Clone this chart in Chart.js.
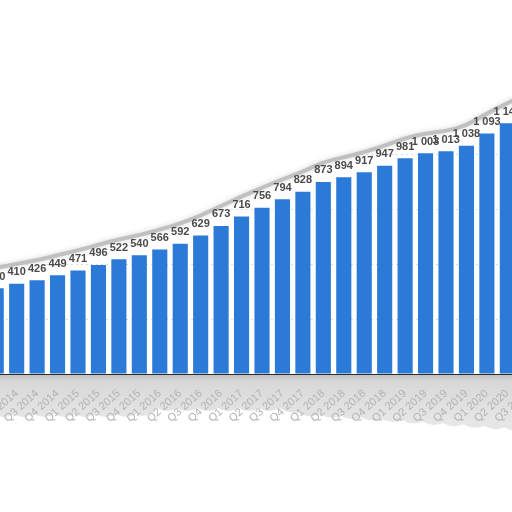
<!DOCTYPE html>
<html>
<head>
<meta charset="utf-8">
<script src="https://cdn.jsdelivr.net/npm/chart.js@4"></script>
<style>
  html, body { margin: 0; padding: 0; background: #fff; overflow: hidden; }
  #wrap { position: absolute; left: -14px; top: 0; width: 552px; height: 512px; }
</style>
</head>
<body>
<div id="wrap"><canvas id="quarterChart"></canvas></div>
<script>
// quarters shown (first and last ones are cut by the page edge)
const quarters = [
  'Q1 2014', 'Q2 2014', 'Q3 2014', 'Q4 2014',
  'Q1 2015', 'Q2 2015', 'Q3 2015', 'Q4 2015',
  'Q1 2016', 'Q2 2016', 'Q3 2016', 'Q4 2016',
  'Q1 2017', 'Q2 2017', 'Q3 2017', 'Q4 2017',
  'Q1 2018', 'Q2 2018', 'Q3 2018', 'Q4 2018',
  'Q1 2019', 'Q2 2019', 'Q3 2019', 'Q4 2019',
  'Q1 2020', 'Q2 2020', 'Q3 2020'
];
const values = [
  390, 410, 426, 449, 471, 496, 522, 540, 566, 592, 629, 673, 716, 756,
  794, 828, 873, 894, 917, 947, 981, 1003, 1013, 1038, 1093, 1140, 1185
];
const yTicks = [0, 250, 500, 750, 1000, 1250, 1500];

const barBlue = '#2c7ad8';

// 1093 -> "1 093"
function fmt(n) {
  if (n < 1000) return String(n);
  const rest = String(n % 1000).padStart(3, '0');
  return Math.floor(n / 1000) + ' ' + rest;
}

// grey torn strip under the x axis
const stripPlugin = {
  id: 'strip',
  beforeDraw(chart) {
    const ctx = chart.ctx;
    const top = chart.scales.x.top + 1;
    const bars = chart.getDatasetMeta(0).data;
    const baseY = x => {
      const px = x - 14;
      if (px < 140) return 412;
      if (px < 290) return 406;
      return 410 + (px - 290) * 0.07;
    };
    ctx.save();
    ctx.beginPath();
    ctx.moveTo(0, top);
    ctx.lineTo(chart.width, top);
    ctx.lineTo(chart.width, baseY(chart.width));
    for (let i = bars.length - 1; i >= 0; i--) {
      const x = bars[i].x;
      const y = baseY(x);
      ctx.quadraticCurveTo(x + 7, y + 8, x - 3, y + 2);
    }
    ctx.lineTo(0, baseY(0));
    ctx.closePath();
    const g = ctx.createLinearGradient(0, top, 0, top + 45);
    g.addColorStop(0, '#c2c2c2');
    g.addColorStop(0.15, '#d8d8d8');
    g.addColorStop(1, '#e6e6e6');
    ctx.fillStyle = g;
    ctx.fill();
    ctx.restore();
  }
};

// torn top edge and value labels
const labelPlugin = {
  id: 'valueLabels',
  afterDraw(chart) {
    const ctx = chart.ctx;
    const bars = chart.getDatasetMeta(0).data;
    const pts = bars.map(b => ({ x: b.x, y: b.y - 20 }));

    const edge = () => {
      ctx.moveTo(0, pts[0].y);
      for (let i = 0; i < pts.length - 1; i++) {
        const mx = (pts[i].x + pts[i + 1].x) / 2;
        const my = (pts[i].y + pts[i + 1].y) / 2;
        ctx.quadraticCurveTo(pts[i].x, pts[i].y, mx, my);
      }
      ctx.lineTo(chart.width, pts[pts.length - 1].y);
    };

    ctx.save();
    ctx.beginPath();
    edge();
    ctx.lineTo(chart.width, 0);
    ctx.lineTo(0, 0);
    ctx.closePath();
    ctx.fillStyle = '#fff';
    ctx.fill();

    ctx.beginPath();
    edge();
    ctx.strokeStyle = 'rgba(165,165,165,0.6)';
    ctx.lineWidth = 4;
    ctx.shadowColor = 'rgba(120,120,120,0.5)';
    ctx.shadowBlur = 5;
    ctx.stroke();
    ctx.restore();

    ctx.save();
    ctx.font = 'bold 11px "Liberation Sans", Arial, sans-serif';
    ctx.fillStyle = '#4a4a4a';
    ctx.textAlign = 'center';
    ctx.textBaseline = 'bottom';
    bars.forEach((b, i) => {
      ctx.fillText(fmt(values[i]), b.x, b.y - 6);
    });
    ctx.restore();
  }
};

new Chart(document.getElementById('quarterChart'), {
  type: 'bar',
  data: {
    labels: quarters,
    datasets: [{
      data: values,
      backgroundColor: barBlue,
      barPercentage: 0.74,
      categoryPercentage: 1.0
    }]
  },
  options: {
    responsive: true,
    maintainAspectRatio: false,
    animation: false,
    layout: { padding: { top: 44, left: 0, right: 0, bottom: 0 } },
    plugins: {
      legend: { display: false },
      tooltip: { enabled: false }
    },
    scales: {
      x: {
        grid: { display: false, drawTicks: false },
        border: { display: true, color: '#2a2a2a', width: 1 },
        ticks: {
          autoSkip: false,
          minRotation: 42,
          maxRotation: 42,
          padding: 13,
          color: '#b2b2b2',
          font: { family: 'Liberation Sans', size: 11 }
        },
        afterFit(scale) {
          scale.height = 138;
          scale.paddingLeft = 0;
          scale.paddingRight = 0;
        }
      },
      y: {
        min: yTicks[0],
        max: yTicks[yTicks.length - 1],
        afterBuildTicks(scale) {
          scale.ticks = yTicks.map(v => ({ value: v }));
        },
        ticks: { display: false },
        border: { display: false, dash: [2, 3] },
        grid: { color: '#dcdcdc', drawTicks: false },
        afterFit(scale) {
          scale.width = 0;
        }
      }
    }
  },
  plugins: [stripPlugin, labelPlugin]
});
</script>
</body>
</html>
